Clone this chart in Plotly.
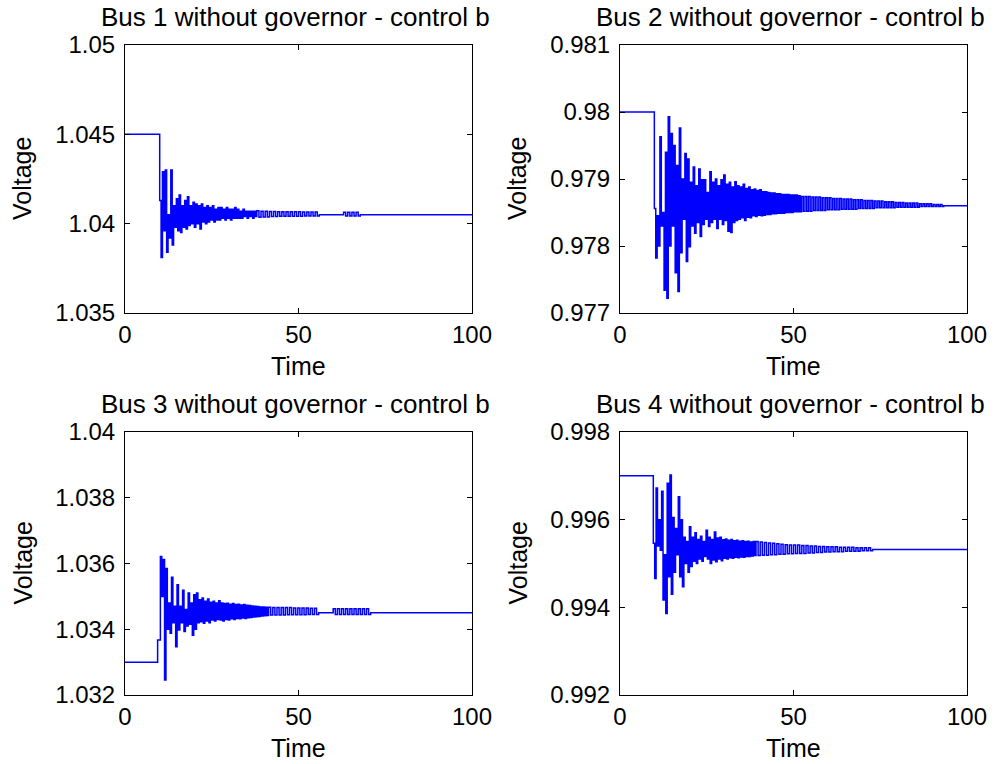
import plotly.graph_objects as go

# ---------------------------------------------------------------------------
# Bus voltage records (per-unit) without governor, control scheme b.
# Each record: steady level before the event, one or more swing segments
# (start time, pair spacing, upper values, lower values) and the settled level.
# Within a segment the voltage alternates upper -> lower every half spacing.
# ---------------------------------------------------------------------------
T_END = 100.0

# ---- Bus 1 ----
bus1_pre = 1.045
bus1_final = 1.0405
bus1_a_t0, bus1_a_dt = 10.0, 0.8
bus1_a_hi = [
    1.0413, 1.0429, 1.0430, 1.0405, 1.0430, 1.0410, 1.0414, 1.0416, 1.0410, 1.0413,
    1.0415, 1.0410, 1.0412, 1.0411, 1.0410, 1.0411, 1.0409, 1.0410, 1.0409, 1.0410,
    1.0408, 1.0409, 1.0409, 1.0408, 1.0409, 1.0408, 1.0408, 1.0409, 1.0408, 1.0407,
    1.0408, 1.0407, 1.0407, 1.0407, 1.0407,
]
bus1_a_lo = [
    1.0381, 1.0396, 1.0384, 1.0392, 1.0388, 1.0398, 1.0396, 1.0395, 1.0398, 1.0397,
    1.0399, 1.0400, 1.0398, 1.0400, 1.0397, 1.0401, 1.0400, 1.0401, 1.0402, 1.0401,
    1.0402, 1.0402, 1.0403, 1.0402, 1.0403, 1.0402, 1.0403, 1.0403, 1.0403, 1.0403,
    1.0404, 1.0403, 1.0404, 1.0403, 1.0404,
]
bus1_b_t0, bus1_b_dt = 38.0, 1.2
bus1_b_hi = [1.04072, 1.04070, 1.04070, 1.04068, 1.04068, 1.04067, 1.04067, 1.04066,
             1.04066, 1.04066, 1.04066, 1.04065, 1.04065, 1.04065, 1.04065]
bus1_b_lo = [1.04036, 1.04038, 1.04038, 1.04040, 1.04040, 1.04041, 1.04041, 1.04042,
             1.04042, 1.04042, 1.04042, 1.04043, 1.04043, 1.04043, 1.04043]
bus1_c_t0, bus1_c_dt = 63.0, 1.2
bus1_c_hi = [1.04064, 1.04064, 1.04064, 1.04064]
bus1_c_lo = [1.04043, 1.04043, 1.04043, 1.04043]

# ---- Bus 2 ----
bus2_pre = 0.98
bus2_final = 0.9786
bus2_a_t0, bus2_a_dt = 9.9, 0.8
bus2_a_hi = [
    0.97856, 0.97845, 0.97963, 0.97850, 0.97940, 0.97993, 0.97968, 0.97950, 0.97920, 0.97976,
    0.97900, 0.97938, 0.97930, 0.97895, 0.97918, 0.97890, 0.97915, 0.97899, 0.97899, 0.97880,
    0.97911, 0.97895, 0.97900, 0.97890, 0.97899, 0.97906, 0.97892, 0.97895, 0.97888, 0.97896,
    0.97890, 0.97888, 0.97892, 0.97886, 0.97888, 0.97884, 0.97885, 0.97883, 0.97884, 0.97881,
    0.97881, 0.97880, 0.97879, 0.97879, 0.97878, 0.97878, 0.97877, 0.97877, 0.97877, 0.97876,
    0.97876, 0.97876, 0.97875,
]
bus2_a_lo = [
    0.97782, 0.97800, 0.97830, 0.97734, 0.97722, 0.97800, 0.97830, 0.97760, 0.97732, 0.97790,
    0.97840, 0.97777, 0.97799, 0.97830, 0.97819, 0.97835, 0.97814, 0.97832, 0.97840, 0.97829,
    0.97835, 0.97840, 0.97826, 0.97840, 0.97832, 0.97838, 0.97822, 0.97820, 0.97835, 0.97838,
    0.97840, 0.97842, 0.97838, 0.97843, 0.97842, 0.97845, 0.97844, 0.97846, 0.97845, 0.97846,
    0.97847, 0.97847, 0.97848, 0.97848, 0.97849, 0.97849, 0.97849, 0.97850, 0.97850, 0.97850,
    0.97851, 0.97851, 0.97851,
]
bus2_b_t0, bus2_b_dt = 52.3, 1.0
bus2_b_hi = [
    0.97874, 0.97874, 0.97874, 0.97873, 0.97873, 0.97873, 0.97872, 0.97872, 0.97872, 0.97871,
    0.97871, 0.97871, 0.97870, 0.97870, 0.97870, 0.97869, 0.97869, 0.97869, 0.97868, 0.97868,
    0.97868, 0.97867, 0.97867, 0.97867, 0.97866, 0.97866, 0.97866, 0.97865, 0.97865, 0.97865,
    0.97864, 0.97864, 0.97864, 0.97864, 0.97863, 0.97863, 0.97863, 0.97863, 0.97862, 0.97862,
    0.97862,
]
bus2_b_lo = [
    0.97852, 0.97852, 0.97852, 0.97853, 0.97853, 0.97853, 0.97853, 0.97854, 0.97854, 0.97854,
    0.97854, 0.97855, 0.97855, 0.97855, 0.97855, 0.97855, 0.97856, 0.97856, 0.97856, 0.97856,
    0.97856, 0.97857, 0.97857, 0.97857, 0.97857, 0.97857, 0.97857, 0.97858, 0.97858, 0.97858,
    0.97858, 0.97858, 0.97858, 0.97858, 0.97859, 0.97859, 0.97859, 0.97859, 0.97859, 0.97859,
    0.97859,
]

# ---- Bus 3 ----
bus3_pre = 1.033
bus3_final = 1.0345
bus3_a_t0, bus3_a_dt = 9.4, 0.8
bus3_a_hi = [
    1.03367, 1.03621, 1.03612, 1.03585, 1.03480, 1.03558, 1.03470, 1.03535, 1.03470, 1.03519,
    1.03460, 1.03510, 1.03480, 1.03505, 1.03510, 1.03490, 1.03495, 1.03485, 1.03492, 1.03482,
    1.03485, 1.03480, 1.03487, 1.03480, 1.03478, 1.03479, 1.03476, 1.03478, 1.03475, 1.03476,
    1.03474, 1.03475, 1.03473, 1.03472, 1.03471, 1.03470, 1.03469, 1.03468, 1.03468, 1.03467,
]
bus3_a_lo = [
    1.03367, 1.03500, 1.03246, 1.03400, 1.03388, 1.03420, 1.03347, 1.03398, 1.03420, 1.03393,
    1.03410, 1.03415, 1.03382, 1.03400, 1.03420, 1.03423, 1.03418, 1.03425, 1.03420, 1.03428,
    1.03425, 1.03430, 1.03428, 1.03425, 1.03430, 1.03428, 1.03432, 1.03430, 1.03433, 1.03432,
    1.03434, 1.03433, 1.03435, 1.03436, 1.03437, 1.03438, 1.03439, 1.03440, 1.03441, 1.03442,
]
bus3_b_t0, bus3_b_dt = 41.4, 1.2
bus3_b_hi = [1.03467, 1.03466, 1.03466, 1.03466, 1.03466, 1.03466,
             1.03465, 1.03465, 1.03465, 1.03465, 1.03464, 1.03464]
bus3_b_lo = [1.03443, 1.03443, 1.03443, 1.03443, 1.03444, 1.03444,
             1.03444, 1.03444, 1.03444, 1.03445, 1.03445, 1.03445]
bus3_c_t0, bus3_c_dt = 60.0, 1.2
bus3_c_hi = [1.03462, 1.03462, 1.03462, 1.03462, 1.03462, 1.03462, 1.03462, 1.03462, 1.03462]
bus3_c_lo = [1.03445, 1.03445, 1.03445, 1.03445, 1.03445, 1.03445, 1.03445, 1.03445, 1.03445]

# ---- Bus 4 ----
bus4_pre = 0.997
bus4_final = 0.99532
bus4_a_t0, bus4_a_dt = 9.6, 0.8
bus4_a_hi = [
    0.99546, 0.99672, 0.99600, 0.99665, 0.99520, 0.99683, 0.99702, 0.99605, 0.99580, 0.99652,
    0.99600, 0.99560, 0.99550, 0.99584, 0.99560, 0.99570, 0.99555, 0.99562, 0.99550, 0.99576,
    0.99560, 0.99555, 0.99572, 0.99558, 0.99560, 0.99554, 0.99556, 0.99553, 0.99555, 0.99552,
    0.99553, 0.99551, 0.99552, 0.99550, 0.99551, 0.99549, 0.99550,
]
bus4_a_lo = [
    0.99466, 0.99540, 0.99530, 0.99417, 0.99386, 0.99470, 0.99430, 0.99480, 0.99520, 0.99470,
    0.99447, 0.99500, 0.99480, 0.99493, 0.99505, 0.99500, 0.99510, 0.99505, 0.99516, 0.99510,
    0.99500, 0.99508, 0.99504, 0.99510, 0.99506, 0.99512, 0.99510, 0.99513, 0.99512, 0.99514,
    0.99513, 0.99515, 0.99514, 0.99516, 0.99516, 0.99517, 0.99518,
]
bus4_b_t0, bus4_b_dt = 39.2, 1.2
bus4_b_hi = [
    0.99550, 0.99549, 0.99548, 0.99547, 0.99546, 0.99545, 0.99544, 0.99543, 0.99542, 0.99542,
    0.99542, 0.99541, 0.99541, 0.99540, 0.99540, 0.99539, 0.99539, 0.99538, 0.99538, 0.99538,
    0.99537, 0.99537, 0.99537, 0.99537, 0.99536, 0.99536, 0.99536, 0.99536,
]
bus4_b_lo = [
    0.99518, 0.99519, 0.99519, 0.99520, 0.99520, 0.99521, 0.99521, 0.99522, 0.99522, 0.99523,
    0.99523, 0.99523, 0.99524, 0.99524, 0.99525, 0.99525, 0.99526, 0.99526, 0.99527, 0.99527,
    0.99527, 0.99528, 0.99528, 0.99528, 0.99528, 0.99529, 0.99529, 0.99529,
]

titles = [
    "Bus 1 without governor - control b",
    "Bus 2 without governor - control b",
    "Bus 3 without governor - control b",
    "Bus 4 without governor - control b",
]
y_ranges = [(1.035, 1.05), (0.977, 0.981), (1.032, 1.04), (0.992, 0.998)]
y_ticks = [
    [1.035, 1.04, 1.045, 1.05],
    [0.977, 0.978, 0.979, 0.98, 0.981],
    [1.032, 1.034, 1.036, 1.038, 1.04],
    [0.992, 0.994, 0.996, 0.998],
]
y_ticktext = [
    ["1.035", "1.04", "1.045", "1.05"],
    ["0.977", "0.978", "0.979", "0.98", "0.981"],
    ["1.032", "1.034", "1.036", "1.038", "1.04"],
    ["0.992", "0.994", "0.996", "0.998"],
]
x_ticks = [0, 50, 100]


def build_series(pre, segments, final):
    """Sample-and-hold record: pre-event level, swing segments, settled level."""
    xs, ys = [0.0], [pre]
    for idx, (t0, dt, hi, lo) in enumerate(segments):
        for i, (h, l) in enumerate(zip(hi, lo)):
            xs += [round(t0 + i * dt, 4), round(t0 + (i + 0.5) * dt, 4)]
            ys += [h, l]
        t_end = round(t0 + len(hi) * dt, 4)
        nxt = segments[idx + 1][0] if idx + 1 < len(segments) else None
        if nxt is None or nxt - t_end > 1e-6:
            xs.append(t_end)
            ys.append(final)
    xs.append(T_END)
    ys.append(final)
    return xs, ys


series = [
    build_series(bus1_pre, [(bus1_a_t0, bus1_a_dt, bus1_a_hi, bus1_a_lo),
                            (bus1_b_t0, bus1_b_dt, bus1_b_hi, bus1_b_lo),
                            (bus1_c_t0, bus1_c_dt, bus1_c_hi, bus1_c_lo)], bus1_final),
    build_series(bus2_pre, [(bus2_a_t0, bus2_a_dt, bus2_a_hi, bus2_a_lo),
                            (bus2_b_t0, bus2_b_dt, bus2_b_hi, bus2_b_lo)], bus2_final),
    build_series(bus3_pre, [(bus3_a_t0, bus3_a_dt, bus3_a_hi, bus3_a_lo),
                            (bus3_b_t0, bus3_b_dt, bus3_b_hi, bus3_b_lo),
                            (bus3_c_t0, bus3_c_dt, bus3_c_hi, bus3_c_lo)], bus3_final),
    build_series(bus4_pre, [(bus4_a_t0, bus4_a_dt, bus4_a_hi, bus4_a_lo),
                            (bus4_b_t0, bus4_b_dt, bus4_b_hi, bus4_b_lo)], bus4_final),
]

W, H = 994, 764
FONT = "Liberation Sans, Arial, sans-serif"
TICK_SIZE = 24
LABEL_SIZE = 25
TITLE_SIZE = 26

# panel boxes in pixels: (left, right, top, bottom)
boxes = [(125, 472, 45, 313), (620, 967, 45, 313),
         (125, 472, 432, 695), (620, 967, 432, 695)]

fig = go.Figure()
annotations = []
layout_axes = {}

for k, ((xs, ys), box) in enumerate(zip(series, boxes)):
    n = "" if k == 0 else str(k + 1)
    left, right, top, bottom = box
    fig.add_trace(go.Scatter(
        x=xs, y=ys, mode="lines", line=dict(color="#0000ff", width=1.5, shape="hv"),
        xaxis="x" + n, yaxis="y" + n, showlegend=False, hoverinfo="skip",
    ))
    common = dict(
        showline=True, linecolor="black", linewidth=1, mirror="allticks",
        ticks="inside", ticklen=5, tickcolor="black", tickwidth=1,
        showgrid=False, zeroline=False, automargin=False,
        tickfont=dict(family=FONT, size=TICK_SIZE, color="black"),
    )
    layout_axes["xaxis" + n] = dict(
        common, domain=[left / W, right / W], anchor="y" + n,
        range=[0, T_END], tickmode="array", tickvals=x_ticks,
        ticktext=[str(v) for v in x_ticks], ticklabelstandoff=0,
    )
    layout_axes["yaxis" + n] = dict(
        common, domain=[1 - bottom / H, 1 - top / H], anchor="x" + n,
        range=list(y_ranges[k]), tickmode="array", tickvals=y_ticks[k],
        ticktext=y_ticktext[k], ticklabelstandoff=4,
    )
    cx = (left + right) / 2 - 3
    annotations.append(dict(
        text=titles[k], x=cx / W, y=1 - (top - 28) / H, xref="paper", yref="paper",
        xanchor="center", yanchor="middle", showarrow=False,
        font=dict(family=FONT, size=TITLE_SIZE, color="black"),
    ))
    annotations.append(dict(
        text="Time", x=(left + right) / 2 / W, y=1 - (bottom + 53) / H,
        xref="paper", yref="paper", xanchor="center", yanchor="middle",
        showarrow=False, font=dict(family=FONT, size=LABEL_SIZE, color="black"),
    ))
    annotations.append(dict(
        text="Voltage", x=(left - 103) / W, y=1 - (top + bottom) / 2 / H,
        xref="paper", yref="paper", xanchor="center", yanchor="middle",
        textangle=-90, showarrow=False,
        font=dict(family=FONT, size=LABEL_SIZE, color="black"),
    ))

fig.update_layout(
    width=W, height=H, margin=dict(l=0, r=0, t=0, b=0),
    paper_bgcolor="white", plot_bgcolor="white",
    annotations=annotations, **layout_axes,
)

fig.write_html("out.html")
